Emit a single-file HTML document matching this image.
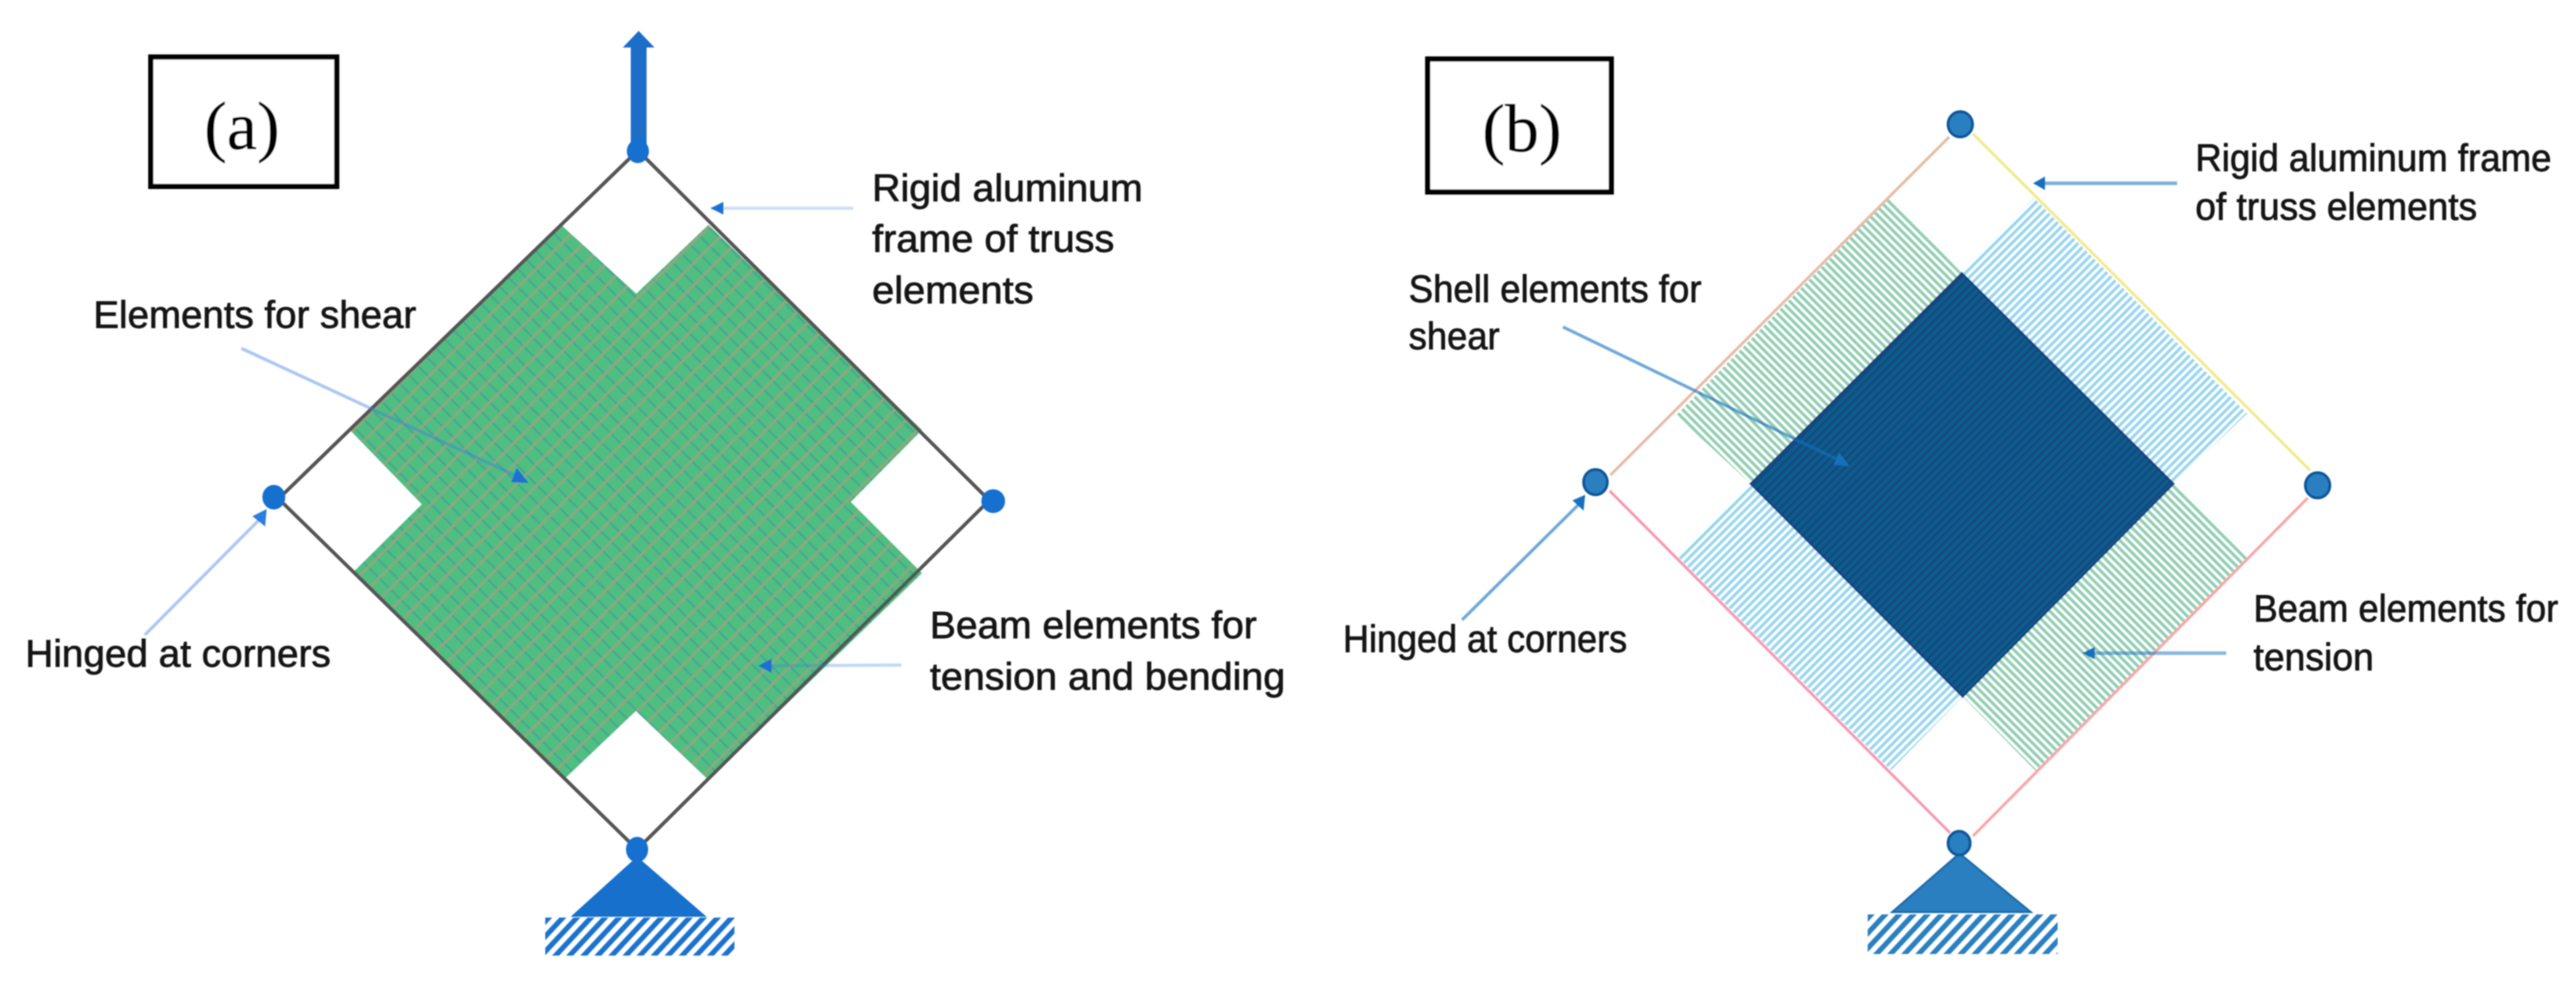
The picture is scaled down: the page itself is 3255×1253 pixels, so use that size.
<!DOCTYPE html>
<html><head><meta charset="utf-8"><title>Truss diagram</title>
<style>
html,body{margin:0;padding:0;background:#fff;width:3255px;height:1253px;overflow:hidden}
svg{display:block;position:absolute;left:0;top:0}
.l{font-family:"Liberation Sans",sans-serif;font-size:48px;fill:#181818;stroke:#181818;stroke-width:0.9px}
.t{font-family:"Liberation Serif",serif;font-size:86px;fill:#000;stroke:#000;stroke-width:0.5px}
</style></head><body>
<svg width="3255" height="1253" viewBox="0 0 3255 1253" xmlns="http://www.w3.org/2000/svg">
<defs>
<filter id="b" x="-2%" y="-2%" width="104%" height="104%"><feGaussianBlur stdDeviation="0.8"/></filter>
<pattern id="mesh" width="19.4" height="16" patternUnits="userSpaceOnUse" patternTransform="translate(12 4) rotate(45)">
  <rect width="19.4" height="16" fill="#50be80"/>
  <rect x="0" y="6" width="19.4" height="2.4" fill="#48a592"/>
  <rect x="8" y="0" width="3" height="16" fill="#93a47f"/>
</pattern>
<pattern id="sg" width="20" height="7.4" patternUnits="userSpaceOnUse" patternTransform="rotate(45)">
  <rect width="20" height="7.4" fill="#fff"/><rect y="0" width="20" height="4" fill="#90cfb3"/>
</pattern>
<pattern id="sb" width="20" height="7.4" patternUnits="userSpaceOnUse" patternTransform="rotate(-45)">
  <rect width="20" height="7.4" fill="#fff"/><rect y="0" width="20" height="4" fill="#98d7f1"/>
</pattern>
<pattern id="dk" width="20" height="7.4" patternUnits="userSpaceOnUse" patternTransform="rotate(-45)">
  <rect width="20" height="7.4" fill="#03648f"/><rect y="0" width="20" height="3.7" fill="#1f4480"/>
</pattern>
<pattern id="ha" width="20" height="13" patternUnits="userSpaceOnUse" patternTransform="translate(689 1159) rotate(-47)">
  <rect width="20" height="6.5" fill="#1a72cf"/>
</pattern>
<pattern id="hb" width="20" height="13" patternUnits="userSpaceOnUse" patternTransform="translate(2360 1155) rotate(-47)">
  <rect width="20" height="6.5" fill="#2a80c0"/>
</pattern>
</defs>

<g filter="url(#b)">
<!-- (a) -->
<rect x="190.5" y="72" width="235" height="163.5" fill="#fff" stroke="#000" stroke-width="6.5"/>
<text class="t" x="258" y="188">(a)</text>

<polygon points="709,284 804,371 895,284 1165,543 1075,634 1165,724 895,985 803.5,898 712,985 446,723 533,637 442,543" fill="url(#mesh)"/>
<polyline points="806,190 352,630 805,1073 1250,632 806,190" fill="none" stroke="#555" stroke-width="4.5"/>

<rect x="797" y="60" width="20" height="130" fill="#1a6ec8"/>
<polygon points="807,39 787,60 827,60" fill="#1a6ec8"/>
<ellipse cx="806" cy="191" rx="14" ry="15" fill="#146fd0"/>
<ellipse cx="346" cy="628" rx="14.5" ry="15.5" fill="#146fd0"/>
<circle cx="1255" cy="633" r="15" fill="#146fd0"/>
<ellipse cx="805" cy="1073" rx="14" ry="16" fill="#146fd0"/>
<polygon points="805,1082 721,1158 893,1158" fill="#1570cc"/>
<rect x="689" y="1159" width="239" height="48" fill="url(#ha)"/>

<line x1="1078" y1="263" x2="898" y2="263" stroke="#3a7fe0" stroke-width="4" opacity="0.25"/>
<polygon points="898,263 914,255 914,271" fill="#1a6fd6"/>
<line x1="305" y1="440" x2="650" y2="600" stroke="#3a7fe0" stroke-width="4" opacity="0.42"/>
<polygon points="668,610 646,609 653,591" fill="#1a6fd6"/>
<line x1="183" y1="802" x2="328" y2="656" stroke="#3a7fe0" stroke-width="4" opacity="0.42"/>
<polygon points="337,643 335,665 319,652" fill="#2b7fe0"/>
<line x1="1139" y1="840" x2="972" y2="841" stroke="#3a7fe0" stroke-width="4" opacity="0.3"/>
<polygon points="958,841 975,832 975,850" fill="#1a6fd6"/>

<text class="l" x="118" y="414" textLength="408" lengthAdjust="spacingAndGlyphs">Elements for shear</text>
<text class="l" x="1102" y="254" textLength="342" lengthAdjust="spacingAndGlyphs">Rigid aluminum</text>
<text class="l" x="1102" y="318" textLength="306" lengthAdjust="spacingAndGlyphs">frame of truss</text>
<text class="l" x="1102" y="383" textLength="204" lengthAdjust="spacingAndGlyphs">elements</text>
<text class="l" x="32" y="842" textLength="386" lengthAdjust="spacingAndGlyphs">Hinged at corners</text>
<text class="l" x="1175" y="806" textLength="413" lengthAdjust="spacingAndGlyphs">Beam elements for</text>
<text class="l" x="1175" y="871" textLength="449" lengthAdjust="spacingAndGlyphs">tension and bending</text>

<!-- (b) -->
<rect x="1804" y="74.5" width="232" height="168" fill="#fff" stroke="#000" stroke-width="6.5"/>
<text class="t" x="1873" y="191">(b)</text>

<polygon points="2387.5,250 2479,345 2212,611 2118,524.5" fill="url(#sg)"/>
<polygon points="2570,250 2839.5,522.5 2746.5,611 2479,345" fill="url(#sb)"/>
<polygon points="2212,611 2120,703 2389.5,973 2480,880" fill="url(#sb)"/>
<polygon points="2746.5,611 2841,704 2572,973.5 2480,880" fill="url(#sg)"/>
<polygon points="2479,345 2212,611 2480,880 2746.5,611" fill="url(#dk)" stroke="#0f3f80" stroke-width="2.5"/>

<line x1="2463" y1="173" x2="2035" y2="600" stroke="#e6bba6" stroke-width="3.5"/>
<line x1="2493" y1="169" x2="2919" y2="594" stroke="#f1ea8c" stroke-width="3.5"/>
<line x1="2034" y1="620" x2="2464" y2="1052" stroke="#f79ab0" stroke-width="3.5"/>
<line x1="2493" y1="1056" x2="2916" y2="629" stroke="#fba5a5" stroke-width="3.5"/>

<g fill="#2a7fc1" stroke="#10569a" stroke-width="3.5">
<ellipse cx="2477" cy="157" rx="15.5" ry="16"/>
<ellipse cx="2016" cy="609" rx="15" ry="16"/>
<ellipse cx="2928.5" cy="613" rx="15.5" ry="16"/>
<polygon points="2476,1078 2391,1152 2566,1152" stroke="#1b6aa8" stroke-width="2.5"/>
<ellipse cx="2475.5" cy="1065" rx="14" ry="15"/>
</g>
<rect x="2360" y="1155" width="240" height="50" fill="url(#hb)"/>

<line x1="2751" y1="231.5" x2="2580" y2="231.5" stroke="#1270bd" stroke-width="4.5" opacity="0.55"/>
<polygon points="2569,231.5 2584,223 2584,240" fill="#1271bd"/>
<line x1="1975" y1="413" x2="2325" y2="582" stroke="#1270bd" stroke-width="4" opacity="0.6"/>
<polygon points="2337,589 2317,587 2324,572" fill="#1271bd"/>
<line x1="1847.5" y1="783" x2="1996" y2="636" stroke="#1270bd" stroke-width="4" opacity="0.6"/>
<polygon points="2003,625 2001,645 1987,632" fill="#1271bd"/>
<line x1="2813" y1="825" x2="2645" y2="825" stroke="#1270bd" stroke-width="4.5" opacity="0.5"/>
<polygon points="2631,825 2647,817 2647,833" fill="#1271bd"/>

<text class="l" x="1780" y="381.5" textLength="370" lengthAdjust="spacingAndGlyphs">Shell elements for</text>
<text class="l" x="1780" y="441" textLength="115" lengthAdjust="spacingAndGlyphs">shear</text>
<text class="l" x="2774" y="216" textLength="450" lengthAdjust="spacingAndGlyphs">Rigid aluminum frame</text>
<text class="l" x="2774" y="277.5" textLength="356" lengthAdjust="spacingAndGlyphs">of truss elements</text>
<text class="l" x="1697" y="823.5" textLength="359" lengthAdjust="spacingAndGlyphs">Hinged at corners</text>
<text class="l" x="2847.5" y="785" textLength="385" lengthAdjust="spacingAndGlyphs">Beam elements for</text>
<text class="l" x="2847.5" y="846.5" textLength="152" lengthAdjust="spacingAndGlyphs">tension</text>
</g>
</svg>
</body></html>
